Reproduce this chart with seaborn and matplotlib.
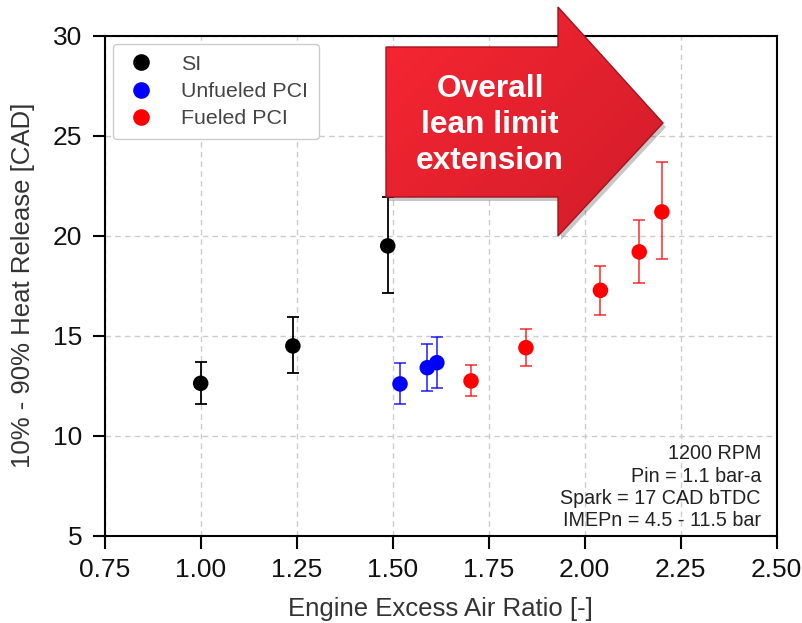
import numpy as np
import pandas as pd
import matplotlib
matplotlib.use("Agg")
import matplotlib.pyplot as plt
import seaborn as sns
from matplotlib.patches import Polygon
from matplotlib.lines import Line2D

# ---- data ----
si_x = [1.00, 1.24, 1.487]
si_y = [12.62, 14.49, 19.49]
si_lo = [11.57, 13.12, 17.12]
si_hi = [13.70, 15.95, 21.92]

uf_x = [1.519, 1.59, 1.615]
uf_y = [12.59, 13.40, 13.65]
uf_lo = [11.57, 12.25, 12.37]
uf_hi = [13.62, 14.59, 14.95]

fu_x = [1.704, 1.847, 2.041, 2.142, 2.201]
fu_y = [12.74, 14.40, 17.27, 19.19, 21.19]
fu_lo = [11.99, 13.50, 16.05, 17.62, 18.82]
fu_hi = [13.54, 15.35, 18.49, 20.80, 23.69]

series_names = ["SI", "Unfueled PCI", "Fueled PCI"]
series_colors = ["#000000", "#0000ff", "#ff0000"]
x_ticks = [0.75, 1.00, 1.25, 1.50, 1.75, 2.00, 2.25, 2.50]
y_ticks = [5, 10, 15, 20, 25, 30]
note_lines = ["1200 RPM", "Pin = 1.1 bar-a", "Spark = 17 CAD bTDC", "IMEPn = 4.5 - 11.5 bar"]
arrow_text = "Overall\nlean limit\nextension"

df = pd.concat([
    pd.DataFrame({"x": si_x, "y": si_y, "lo": si_lo, "hi": si_hi, "grp": series_names[0]}),
    pd.DataFrame({"x": uf_x, "y": uf_y, "lo": uf_lo, "hi": uf_hi, "grp": series_names[1]}),
    pd.DataFrame({"x": fu_x, "y": fu_y, "lo": fu_lo, "hi": fu_hi, "grp": series_names[2]}),
], ignore_index=True)

sns.set_theme(style="whitegrid")
plt.rcParams["font.family"] = ["Liberation Sans", "DejaVu Sans"]

W, H = 802, 623
fig = plt.figure(figsize=(W / 100, H / 100), dpi=100)
ax = fig.add_axes([104.7 / W, 1 - 535.7 / H, (776.7 - 104.7) / W, (535.7 - 35.7) / H])
ax.set_facecolor("white")

palette = dict(zip(series_names, series_colors))
err_alpha = {"SI": 1.0, "Unfueled PCI": 0.75, "Fueled PCI": 0.7}
for name in series_names:
    d = df[df.grp == name]
    ax.errorbar(d.x, d.y, yerr=[d.y - d.lo, d.hi - d.y], fmt="none",
                ecolor=palette[name], alpha=err_alpha[name], elinewidth=1.3,
                capsize=4.5, capthick=1.3, zorder=3)

sns.scatterplot(data=df, x="x", y="y", hue="grp", palette=palette, s=125,
                edgecolor="none", ax=ax, zorder=4, legend=False)

ax.set_xlim(0.75, 2.50)
ax.set_ylim(5, 30)
ax.set_xticks(x_ticks)
ax.set_xticklabels([f"{v:.2f}" for v in x_ticks])
ax.set_yticks(y_ticks)
ax.grid(True, color="#cccccc", linestyle=(0, (4, 3)), linewidth=1.0)
for s in ax.spines.values():
    s.set_color("black")
    s.set_linewidth(1.5)
ax.tick_params(axis="both", which="major", direction="out", length=9, width=1.5,
               color="black", labelsize=19, labelcolor="#111111", pad=7,
               bottom=True, left=True)
ax.tick_params(axis="y", pad=7)
ax.set_xlabel("Engine Excess Air Ratio [-]", fontsize=18.5, color="#333333", labelpad=11)
ax.set_ylabel("10% - 90% Heat Release [CAD]", fontsize=18.5, color="#333333", labelpad=13)

# legend
handles = [Line2D([], [], marker="o", linestyle="none", markersize=12,
                  markerfacecolor=c, markeredgecolor="none") for c in series_colors]
leg = ax.legend(handles, series_names, loc="upper left", bbox_to_anchor=(0.012, 0.983),
                fontsize=15.4, frameon=True, fancybox=True, framealpha=1,
                edgecolor="#cccccc", handletextpad=1.1, labelspacing=0.38,
                borderpad=0.5, handlelength=1.6, borderaxespad=0)
for t in leg.get_texts():
    t.set_color("#444444")
leg.set_zorder(5)

# notes
ax.text(0.9766, 0.011, "\n".join(note_lines), transform=ax.transAxes, ha="right",
        va="bottom", fontsize=14.2, color="#222222", linespacing=1.22, zorder=5)

# arrow overlay in pixel coordinates
ov = fig.add_axes([0, 0, 1, 1], zorder=10)
ov.set_xlim(0, W)
ov.set_ylim(H, 0)
ov.axis("off")
ov.patch.set_alpha(0)
pts = np.array([[386, 47], [558, 47], [558, 7], [663, 123], [558, 236], [558, 197], [386, 197]])
shadow = Polygon(pts + np.array([3, 4]), closed=True, facecolor="#000000", alpha=0.22,
                 edgecolor="none")
ov.add_patch(shadow)
poly = Polygon(pts, closed=True, facecolor="none", edgecolor="#a3141e", linewidth=1.0)
ov.add_patch(poly)
gx = np.linspace(0, 1, 200)
gy = np.linspace(0, 1, 200)
GX, GY = np.meshgrid(gx, gy)
t = np.clip(0.55 * GX + 0.45 * GY, 0, 1)
c0 = np.array([0.97, 0.15, 0.20])
c1 = np.array([0.82, 0.11, 0.16])
img = c0[None, None, :] * (1 - t[..., None]) + c1[None, None, :] * t[..., None]
im = ov.imshow(img, extent=(386, 663, 236, 7), origin="upper", aspect="auto", zorder=1)
im.set_clip_path(poly)
poly.set_zorder(2)
ov.set_xlim(0, W)
ov.set_ylim(H, 0)
ov.text(490, 125, arrow_text, ha="center", va="center", color="white",
        fontsize=22.8, fontweight="bold", linespacing=1.28, zorder=3)

fig.savefig("out.png", dpi=100)
